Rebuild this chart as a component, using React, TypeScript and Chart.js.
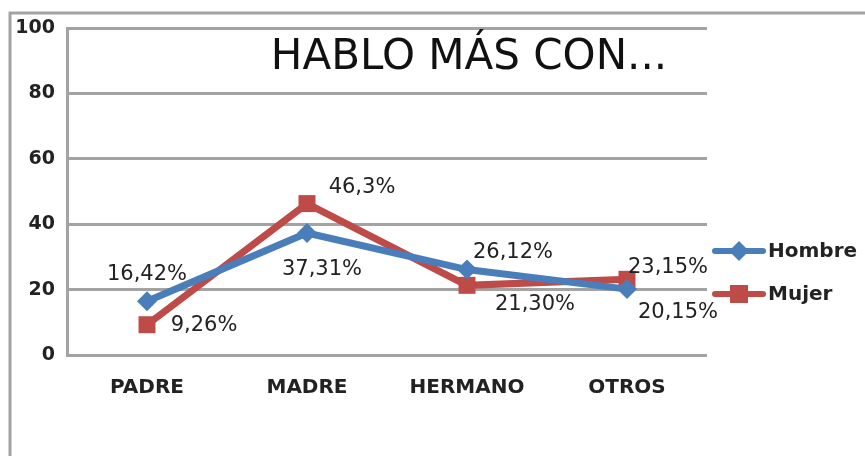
import React, { useEffect, useRef } from "react";
import { Chart, registerables } from "chart.js";

Chart.register(...registerables);

const categories = ["PADRE", "MADRE", "HERMANO", "OTROS"];
const hombre = [16.42, 37.31, 26.12, 20.15];
const mujer = [9.26, 46.3, 21.3, 23.15];
const hombreLabels = ["16,42%", "37,31%", "26,12%", "20,15%"];
const mujerLabels = ["9,26%", "46,3%", "21,30%", "23,15%"];
const yTicks = [0, 20, 40, 60, 80, 100];
const title = "HABLO MÁS CON...";

const BLUE = "#4a7ebb";
const RED = "#be4b48";
const TEXT = "#222222";
const GRID = "#a3a3a3";

// label offsets (dx, dy) relative to point, per series
const hombreOffsets = [[0, -27], [15, 37], [46, -17], [51, 23]];
const mujerOffsets = [[57, 1], [55, -16], [68, 19], [41, -12]];

const extras = {
  id: "extras",
  beforeDraw(chart: any) {
    const ctx = chart.ctx;
    ctx.save();
    ctx.strokeStyle = GRID;
    ctx.lineWidth = 3;
    ctx.beginPath();
    ctx.moveTo(10, 460);
    ctx.lineTo(10, 13);
    ctx.lineTo(870, 13);
    ctx.stroke();
    ctx.restore();
  },
  afterDraw(chart: any) {
    const ctx = chart.ctx;
    const area = chart.chartArea;
    ctx.save();
    // title
    ctx.fillStyle = "#111";
    ctx.font = "42px 'DejaVu Sans'";
    ctx.textAlign = "center";
    ctx.textBaseline = "middle";
    ctx.fillText(title, area.left + 402, area.top + 30);
    // data labels
    ctx.font = "21px 'DejaVu Sans'";
    ctx.fillStyle = TEXT;
    const sets = [
      { idx: 0, labels: hombreLabels, off: hombreOffsets },
      { idx: 1, labels: mujerLabels, off: mujerOffsets },
    ];
    sets.forEach((s) => {
      const meta = chart.getDatasetMeta(s.idx);
      meta.data.forEach((pt: any, i: number) => {
        ctx.fillText(s.labels[i], pt.x + s.off[i][0], pt.y + s.off[i][1]);
      });
    });
    // legend
    const items = [
      { name: "Hombre", color: BLUE, style: "diamond", y: 251 },
      { name: "Mujer", color: RED, style: "square", y: 294 },
    ];
    items.forEach((it) => {
      const x0 = area.right + 8;
      ctx.strokeStyle = it.color;
      ctx.lineWidth = 6;
      ctx.lineCap = "round";
      ctx.beginPath();
      ctx.moveTo(x0, it.y);
      ctx.lineTo(x0 + 48, it.y);
      ctx.stroke();
      ctx.fillStyle = it.color;
      const cx = x0 + 24;
      if (it.style === "diamond") {
        ctx.beginPath();
        ctx.moveTo(cx, it.y - 10);
        ctx.lineTo(cx + 10, it.y);
        ctx.lineTo(cx, it.y + 10);
        ctx.lineTo(cx - 10, it.y);
        ctx.closePath();
        ctx.fill();
      } else {
        ctx.fillRect(cx - 9, it.y - 9, 18, 18);
      }
      ctx.fillStyle = TEXT;
      ctx.font = "bold 20px 'DejaVu Sans'";
      ctx.textAlign = "left";
      ctx.fillText(it.name, x0 + 53, it.y + 1);
      ctx.textAlign = "center";
    });
    ctx.restore();
  },
};

export default function App() {
  const ref = useRef<HTMLCanvasElement>(null);
  useEffect(() => {
    document.body.style.overflow = "hidden";
    const chart = new Chart(ref.current!, {
      type: "line",
      data: {
        labels: categories,
        datasets: [
          {
            label: "Hombre",
            data: hombre,
            borderColor: BLUE,
            backgroundColor: BLUE,
            borderWidth: 7,
            pointStyle: "rectRot",
            pointRadius: 10,
            pointBorderWidth: 0,
            tension: 0,
          },
          {
            label: "Mujer",
            data: mujer,
            borderColor: RED,
            backgroundColor: RED,
            borderWidth: 7,
            pointStyle: "rect",
            pointRadius: 12,
            pointBorderWidth: 0,
            tension: 0,
          },
        ],
      },
      options: {
        responsive: false,
        animation: false,
        layout: { padding: { left: 10, top: 28, right: 158, bottom: 41 } },
        plugins: { legend: { display: false }, tooltip: { enabled: false } },
        scales: {
          x: {
            offset: true,
            grid: { display: false, drawTicks: false },
            border: { display: false },
            ticks: {
              color: TEXT,
              padding: 21,
              font: { family: "'DejaVu Sans'", size: 20, weight: "bold" },
            },
            afterFit: (s: any) => {
              s.height = 60;
            },
          },
          y: {
            min: 0,
            max: 100,
            afterBuildTicks: (s: any) => {
              s.ticks = yTicks.map((v) => ({ value: v }));
            },
            grid: { color: GRID, lineWidth: 3, drawTicks: false },
            border: { display: true, color: GRID, width: 3 },
            ticks: {
              color: TEXT,
              padding: 12,
              font: { family: "'DejaVu Sans'", size: 19, weight: "bold" },
            },
            afterFit: (s: any) => {
              s.width = 57;
            },
          },
        },
      },
      plugins: [extras],
    });
    return () => chart.destroy();
  }, []);
  return (
    <div style={{ position: "fixed", left: 0, top: 0, width: 865, height: 456, background: "#fff" }}>
      <canvas ref={ref} width={865} height={456} style={{ display: "block" }} />
    </div>
  );
}
